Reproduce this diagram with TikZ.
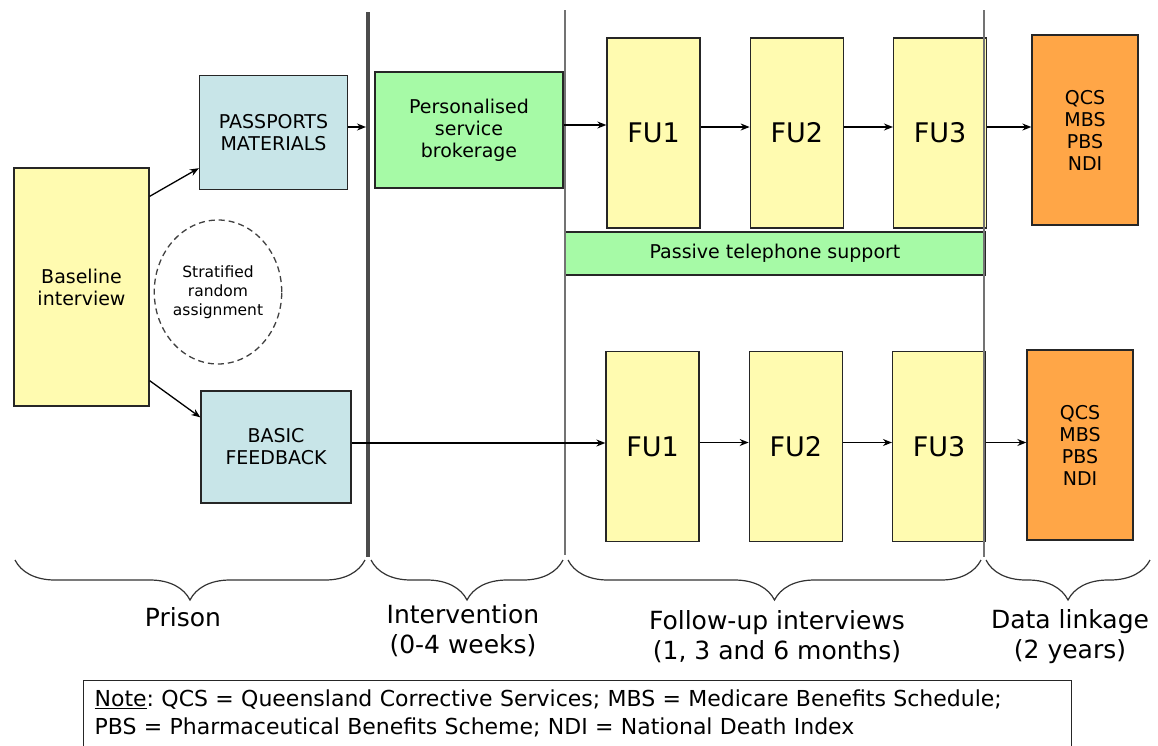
\documentclass[tikz,border=0pt]{standalone}
\usepackage{fontspec}
\setmainfont{DejaVu Sans}
\usepackage{tikz}
\usetikzlibrary{arrows,arrows.meta,positioning,shapes.geometric,decorations.pathreplacing}
\definecolor{fuyellow}{RGB}{255,251,176}
\definecolor{matblue}{RGB}{200,229,232}
\definecolor{servgreen}{RGB}{166,250,166}
\definecolor{linkorange}{RGB}{255,166,71}
\frenchspacing

\begin{document}
\begin{tikzpicture}[x=1pt, y=-1pt, ->, >={Stealth[length=9pt, width=7pt]}, line width=1.3pt, node distance=49pt]
\tikzstyle{every node}=[font=\fontsize{19}{22}\selectfont, align=center]
\tikzstyle{box}=[draw=black!85, line width=1.3pt, inner sep=0pt]
\tikzstyle{fubox}=[box, fill=fuyellow, minimum width=93pt, minimum height=190pt, font=\fontsize{27}{30}\selectfont]
\tikzstyle{linkbox}=[box, fill=linkorange, minimum width=106pt, minimum height=190pt]
\tikzstyle{matbox}=[box, fill=matblue, minimum width=148pt, minimum height=114pt]
\tikzstyle{phase}=[font=\fontsize{25}{30}\selectfont]
\tikzstyle{divider}=[-, black!55, line width=2pt]
\tikzstyle{phasebrace}=[-, decorate, decoration={brace, mirror, amplitude=40pt}, line width=1.2pt, black!80]

\useasboundingbox (0,0) rectangle (1158,745);

% prison
\node[box, fill=fuyellow, minimum width=135pt, minimum height=238pt] (base) at (81.5,287) {Baseline\\interview};
\node[matbox] (pass) at (273.5,132.5) {PASSPORTS\\MATERIALS};
\node[matbox, minimum width=150pt, minimum height=112pt] (basic) at (276,447) {BASIC\\FEEDBACK};
\node[ellipse, draw=black!75, dash pattern=on 6pt off 4pt, line width=1.3pt, minimum width=122pt, minimum height=144pt, inner sep=0pt,
      font=\fontsize{15.5}{19}\selectfont] (rand) at (218,292) {Stratified\\random\\assignment};

% intervention
\node[box, fill=servgreen, minimum width=188pt, minimum height=116pt] (brok) at (469,130) {Personalised\\service\\brokerage};

% follow-up
\node[fubox] (fua) at (653.5,133) {FU1};
\node[fubox, right=of fua] (fub) {FU2};
\node[fubox, right=of fub] (fuc) {FU3};
\node[linkbox] (linka) at (1085,130) {QCS\\MBS\\PBS\\NDI};
\node[box, fill=servgreen, minimum width=420pt, minimum height=43pt] (phone) at (775,253.5) {Passive telephone support};

\node[fubox] (fud) at (652.5,446.5) {FU1};
\node[fubox, right=of fud] (fue) {FU2};
\node[fubox, right=of fue] (fuf) {FU3};
\node[linkbox] (linkb) at (1080,445) {QCS\\MBS\\PBS\\NDI};

% dividers
\coordinate (wall) at (366,127);
\draw[-, black!70, line width=4.5pt] (368,12) -- (368,557);
\draw[divider] (565,10) -- (565,555);
\draw[divider] (984,10) -- (984,557);

\path
([yshift=-29pt]base.north east) edge ([yshift=22pt]pass.south west)
([yshift=26pt]base.south east) edge ([yshift=-27pt]basic.north west)
(pass.east |- wall) edge (wall)
([yshift=5pt]brok.east) edge ([yshift=5pt]brok.east -| fua.west)
([yshift=6pt]fua.east) edge ([yshift=6pt]fub.west)
([yshift=6pt]fub.east) edge ([yshift=6pt]fuc.west)
([yshift=6pt]fuc.east) edge ([yshift=6pt]fuc.east -| linka.west)
([yshift=4pt]basic.east) edge ([yshift=4pt]basic.east -| fud.west)
([yshift=4pt]fud.east) edge ([yshift=4pt]fue.west)
([yshift=4pt]fue.east) edge ([yshift=4pt]fuf.west)
([yshift=4pt]fuf.east) edge ([yshift=4pt]fuf.east -| linkb.west);

% phases
\draw[phasebrace] (15,560) -- (365,560);
\draw[phasebrace] (371,560) -- (563,560);
\draw[phasebrace] (568,560) -- (981,560);
\draw[phasebrace] (986,560) -- (1150,560);
\node[phase] (prison) at (183,617) {Prison};
\node[phase] (interv) at (463,631) {Intervention\\(0-4 weeks)};
\node[phase] (follow) at (777,637) {Follow-up interviews\\(1, 3 and 6 months)};
\node[phase] (linkage) at (1070,637) {Data linkage\\(2 years)};

% note
\node[draw=black!85, line width=1.3pt, anchor=north west, align=left, text width=966pt,
      inner xsep=11pt, inner ysep=9pt, font=\fontsize{22}{28}\selectfont] (note) at (83,680)
  {\underline{Note}: QCS = Queensland Corrective Services; MBS = Medicare Benefits Schedule;\\
   PBS = Pharmaceutical Benefits Scheme; NDI = National Death Index\rule[-30pt]{0pt}{0pt}};
\end{tikzpicture}
\end{document}
